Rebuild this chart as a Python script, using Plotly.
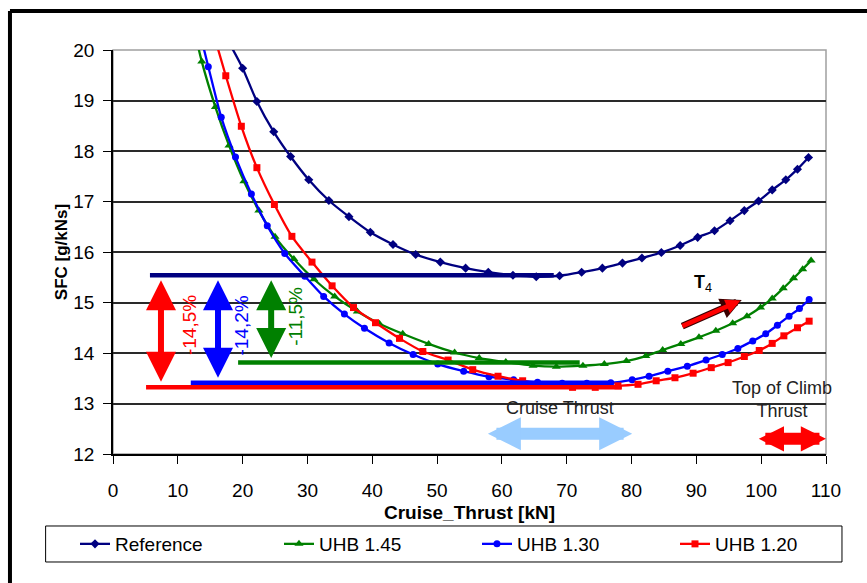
import plotly.graph_objects as go

# ---------------- data ----------------
ref_x = [17.9, 20.0, 22.2, 24.8, 27.4, 30.2, 33.3, 36.4, 39.7, 43.2, 46.7, 50.5, 54.4, 57.9,
         61.7, 65.3, 68.9, 72.3, 75.5, 78.6, 81.6, 84.6, 87.5, 90.2, 92.8, 95.2, 97.4, 99.6,
         101.7, 103.8, 105.6, 107.3]
ref_y = [20.15, 19.64, 18.98, 18.38, 17.89, 17.43, 17.02, 16.70, 16.39, 16.15, 15.95, 15.80,
         15.68, 15.60, 15.54, 15.51, 15.53, 15.60, 15.68, 15.78, 15.88, 15.99, 16.13, 16.29,
         16.42, 16.62, 16.82, 17.01, 17.23, 17.43, 17.64, 17.87]

g145_x = [12.0, 13.7, 15.8, 17.9, 20.2, 22.5, 25.0, 27.9, 31.0, 34.2, 37.7, 41.1, 44.7, 48.7,
          52.7, 56.5, 60.6, 64.8, 68.4, 72.5, 75.8, 79.2, 82.2, 84.8, 87.6, 90.4, 93.0, 95.6,
          97.8, 99.9, 101.7, 103.4, 105.0, 106.4, 107.7]
g145_y = [20.7, 19.77, 18.87, 18.11, 17.40, 16.82, 16.30, 15.86, 15.46, 15.12, 14.82, 14.58,
          14.38, 14.18, 14.01, 13.90, 13.82, 13.75, 13.73, 13.75, 13.78, 13.84, 13.94, 14.06,
          14.18, 14.31, 14.44, 14.59, 14.73, 14.90, 15.08, 15.28, 15.48, 15.66, 15.83]

g130_x = [12.9, 14.7, 16.7, 18.9, 21.35, 23.8, 26.5, 29.6, 32.5, 35.7, 38.8, 42.6, 46.3, 50.1,
          54.1, 58.0, 61.8, 65.5, 69.3, 73.1, 76.8, 80.1, 82.7, 85.6, 88.6, 91.5, 94.0, 96.4,
          98.7, 100.7, 102.5, 104.3, 105.9, 107.4]
g130_y = [20.6, 19.67, 18.67, 17.88, 17.15, 16.52, 15.97, 15.52, 15.12, 14.77, 14.49, 14.20,
          13.97, 13.78, 13.64, 13.53, 13.47, 13.42, 13.40, 13.40, 13.41, 13.47, 13.54, 13.64,
          13.74, 13.86, 13.97, 14.09, 14.24, 14.38, 14.55, 14.73, 14.88, 15.06]

g120_x = [15.0, 17.4, 19.8, 22.2, 24.9, 27.6, 30.7, 33.8, 37.1, 40.5, 44.2, 47.8, 51.7, 55.5,
          59.4, 63.2, 67.3, 70.9, 74.4, 77.9, 81.0, 83.8, 86.7, 89.5, 92.3, 94.9, 97.4, 99.7,
          101.7, 103.5, 105.6, 107.4]
g120_y = [20.55, 19.49, 18.49, 17.67, 16.94, 16.31, 15.80, 15.33, 14.90, 14.60, 14.29, 14.03,
          13.86, 13.67, 13.54, 13.45, 13.37, 13.32, 13.32, 13.35, 13.38, 13.45, 13.51, 13.60,
          13.71, 13.81, 13.93, 14.05, 14.19, 14.34, 14.50, 14.63]

series_names = ["Reference", "UHB 1.45", "UHB 1.30", "UHB 1.20"]

# minimum-SFC level lines: level, start, end
level_names = ["Reference", "UHB 1.45", "UHB 1.30", "UHB 1.20"]
level_y = [15.54, 13.81, 13.41, 13.32]
level_x0 = [5.7, 19.3, 12.0, 5.1]
level_x1 = [68.0, 72.0, 76.5, 78.5]

# reductions (text, x of arrow, x of label, y of label)
red_text = ["-14,5%", "-14,2%", "-11,5%"]
red_arrow_x = [7.4, 16.2, 24.4]
red_arrow_top = [15.47, 15.47, 15.47]
red_arrow_bot = [13.43, 13.51, 13.90]
red_label_x = [11.7, 19.8, 28.1]
red_label_y = [14.55, 14.55, 14.72]

cruise_range = [57.6, 80.1]
toc_range = [99.4, 110.0]
t4_from = (87.6, 14.52)
t4_to = (97.0, 15.05)

x_ticks = list(range(0, 111, 10))
y_ticks = list(range(12, 21, 1))

# ---------------- styles ----------------
colors = ["#000080", "#008000", "#0000FF", "#FF0000"]
symbols = ["diamond", "triangle-up", "circle", "square"]
msizes = [7, 8, 7, 7]
FONT = "Liberation Sans, Arial, sans-serif"
legend_ids = ["legend", "legend2", "legend3", "legend4"]
legend_x = [-0.0533, 0.2328, 0.5105, 0.7882]

fig = go.Figure()
xs = [ref_x, g145_x, g130_x, g120_x]
ys = [ref_y, g145_y, g130_y, g120_y]
for name, x, y, c, s, ms, lg in zip(series_names, xs, ys, colors, symbols, msizes, legend_ids):
    fig.add_trace(go.Scatter(x=x, y=y, name=name, mode="lines+markers", legend=lg,
                             line=dict(color=c, width=2.3, shape="spline", smoothing=0.6),
                             marker=dict(symbol=s, size=ms, color=c),
                             cliponaxis=True))

for name, lv, x0, x1 in zip(level_names, level_y, level_x0, level_x1):
    c = colors[series_names.index(name)]
    fig.add_trace(go.Scatter(x=[x0, x1], y=[lv, lv], mode="lines", showlegend=False,
                             line=dict(color=c, width=4.5), hoverinfo="skip"))

ann = []
arrow_cols = [colors[3], colors[2], colors[1]]
for t, ax_, top, bot, lx, ly, c in zip(red_text, red_arrow_x, red_arrow_top, red_arrow_bot,
                                       red_label_x, red_label_y, arrow_cols):
    ann.append(dict(x=ax_, y=bot, ax=ax_, ay=top, xref="x", yref="y", axref="x", ayref="y",
                    text="", showarrow=True, arrowhead=2, startarrowhead=2,
                    arrowside="end+start", arrowwidth=6, arrowsize=1.0, startarrowsize=1.0,
                    arrowcolor=c, standoff=0, startstandoff=0))
    ann.append(dict(x=lx, y=ly, xref="x", yref="y", text=t, showarrow=False, textangle=-90,
                    font=dict(family=FONT, size=19, color=c)))

# cruise thrust arrow
ann.append(dict(x=cruise_range[1], y=12.40, ax=cruise_range[0], ay=12.40, xref="x", yref="y",
                axref="x", ayref="y", text="", showarrow=True, arrowhead=2, startarrowhead=2,
                arrowside="end+start", arrowwidth=12, arrowsize=0.55, startarrowsize=0.55,
                arrowcolor="#99CCFF", standoff=0, startstandoff=0))
ann.append(dict(x=68.9, y=12.91, xref="x", yref="y", text="Cruise Thrust", showarrow=False,
                font=dict(family=FONT, size=18, color="#222222")))
# top of climb arrow
ann.append(dict(x=toc_range[1], y=12.30, ax=toc_range[0], ay=12.30, xref="x", yref="y",
                axref="x", ayref="y", text="", showarrow=True, arrowhead=2, startarrowhead=2,
                arrowside="end+start", arrowwidth=12, arrowsize=0.42, startarrowsize=0.42,
                arrowcolor="#FF0000", standoff=0, startstandoff=0))
ann.append(dict(x=103.2, y=13.07, xref="x", yref="y", text="Top of Climb<br>Thrust",
                showarrow=False, font=dict(family=FONT, size=18, color="#222222")))
# T4 arrow (dark outline + red)
ann.append(dict(x=t4_to[0], y=t4_to[1], ax=t4_from[0], ay=t4_from[1], xref="x", yref="y",
                axref="x", ayref="y", text="", showarrow=True, arrowhead=2, arrowwidth=7,
                arrowsize=0.6, arrowcolor="#3A0000", standoff=0))
ann.append(dict(x=t4_to[0], y=t4_to[1], ax=t4_from[0], ay=t4_from[1], xref="x", yref="y",
                axref="x", ayref="y", text="", showarrow=True, arrowhead=2, arrowwidth=4.5,
                arrowsize=0.65, arrowcolor="#FF0000", standoff=1.5))
ann.append(dict(x=91.0, y=15.38, xref="x", yref="y", text="<b>T</b><sub>4</sub>",
                showarrow=False, font=dict(family=FONT, size=18, color="#000000")))

shapes = [
    # plot area frame (gray top/right)
    dict(type="rect", xref="paper", yref="paper", x0=0, x1=1, y0=0, y1=1,
         line=dict(color="#A0A0A0", width=1.5), layer="below"),
    # legend box
    dict(type="rect", xref="paper", yref="paper", x0=-0.0945, x1=1.0224, y0=-0.2673, y1=-0.1782,
         line=dict(color="#000000", width=1)),
    # outer frame (left and top visible)
    dict(type="line", xref="paper", yref="paper", x0=-0.1445, x1=-0.1445, y0=1.0965, y1=-0.45,
         line=dict(color="#000000", width=4)),
    dict(type="line", xref="paper", yref="paper", x0=-0.1445, x1=1.1, y0=1.0965, y1=1.0965,
         line=dict(color="#000000", width=4)),
]

legend_layout = {}
for lg, lx in zip(legend_ids, legend_x):
    legend_layout[lg] = dict(orientation="h", x=lx, xanchor="left", y=-0.2228,
                             yanchor="middle", bgcolor="rgba(0,0,0,0)",
                             font=dict(family=FONT, size=19))

fig.update_layout(
    width=867, height=583,
    margin=dict(l=113, r=41, t=50, b=129),
    paper_bgcolor="white", plot_bgcolor="white",
    font=dict(family=FONT, size=19, color="#000000"),
    showlegend=True,
    annotations=ann,
    shapes=shapes,
    xaxis=dict(range=[0, 110], tickvals=x_ticks, ticks="outside", ticklen=8, tickcolor="#000",
               showgrid=False, showline=True, linecolor="#000", linewidth=1.5, zeroline=False,
               tickfont=dict(family=FONT, size=19), ticklabelstandoff=10,
               title=dict(text="<b>Cruise_Thrust [kN]</b>", font=dict(family=FONT, size=19),
                          standoff=6)),
    yaxis=dict(range=[12, 20], tickvals=y_ticks, ticks="outside", ticklen=8, tickcolor="#000",
               showgrid=True, gridcolor="#2A2A2A", gridwidth=1.5, showline=True, linecolor="#000",
               linewidth=1.5, zeroline=False, tickfont=dict(family=FONT, size=19),
               ticklabelstandoff=5,
               title=dict(text="<b>SFC [g/kNs]</b>", font=dict(family=FONT, size=17),
                          standoff=1)),
    **legend_layout,
)

fig.write_html("out.html")
